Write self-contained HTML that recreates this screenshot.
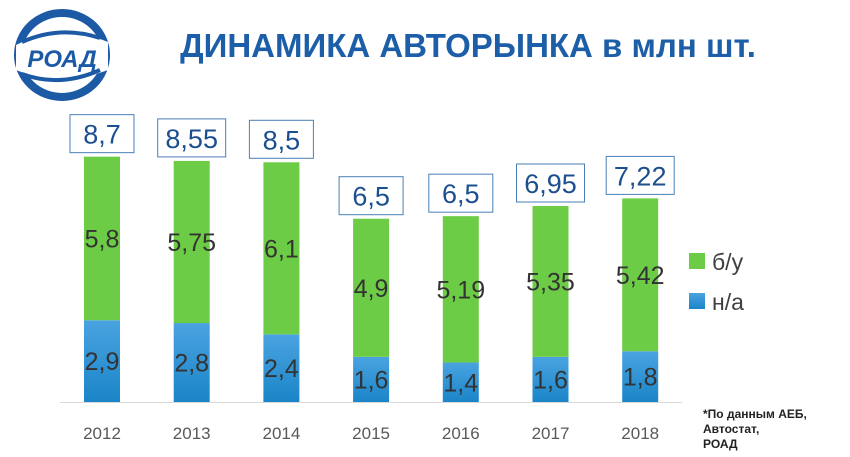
<!DOCTYPE html>
<html><head><meta charset="utf-8"><style>
body{margin:0;background:#fff;width:850px;height:457px;overflow:hidden;font-family:"Liberation Sans","DejaVu Sans",sans-serif}
svg{display:block}
</style></head><body>
<svg width="850" height="457" viewBox="0 0 850 457">
<defs>
<linearGradient id="gb" x1="0" y1="0" x2="0" y2="1"><stop offset="0" stop-color="#4aa3e0"/><stop offset="1" stop-color="#1a85c8"/></linearGradient>
</defs>
<g>
<ellipse cx="62" cy="55" rx="44" ry="42" fill="none" stroke="#1d5aa5" stroke-width="8"/>
<path d="M16 45 Q60 22 108 42 L108 70 Q60 88 16 70 Z" fill="#fff"/>
<path d="M22 42 Q60 25 100 38" fill="none" stroke="#1d5aa5" stroke-width="4"/>
<path d="M22 74 Q60 88 100 70" fill="none" stroke="#1d5aa5" stroke-width="4"/>
<text x="62" y="67" text-anchor="middle" font-size="24" font-weight="bold" font-style="italic" fill="#1d5aa5">РОАД</text>
</g>
<text x="468" y="57" text-anchor="middle" font-size="33" font-weight="bold" fill="#1c5ea8">ДИНАМИКА АВТОРЫНКА в млн шт.</text>
<line x1="60" y1="402.5" x2="682" y2="402.5" stroke="#d9d9d9"/>
<g id="bars"></g>
<g>
<rect x="689" y="253" width="16" height="16" fill="#6dcc45"/>
<text x="712" y="270" font-size="23" fill="#404040">б/у</text>
<rect x="689" y="293" width="16" height="16" fill="url(#gb)"/>
<text x="712" y="310" font-size="23" fill="#404040">н/а</text>
</g>
<g font-size="12" font-weight="bold" fill="#222">
<text x="703" y="418">*По данным АЕБ,</text>
<text x="703" y="433">Автостат,</text>
<text x="703" y="448">РОАД</text>
</g>
</svg>
<script>
const years=["2012","2013","2014","2015","2016","2017","2018"];
const newCars=[2.9,2.8,2.4,1.6,1.4,1.6,1.8];
const usedCars=[5.8,5.75,6.1,4.9,5.19,5.35,5.42];
const totals=[8.7,8.55,8.5,6.5,6.5,6.95,7.22];
const NS="http://www.w3.org/2000/svg";
const g=document.getElementById('bars');
const base=402,scale=28.2,x0=102,step=89.7,bw=36;
const yS=v=>base-v*scale;
const fmt=v=>String(v).replace('.',',');
function mk(t,a){const e=document.createElementNS(NS,t);for(const k in a)e.setAttribute(k,a[k]);g.appendChild(e);return e;}
years.forEach((yr,i)=>{
const cx=x0+i*step;
const yN=yS(newCars[i]),yT=yS(newCars[i]+usedCars[i]);
const b=mk('rect',{x:cx-bw/2,y:yN,width:bw,height:base-yN,fill:'url(#gb)'});


const u=mk('rect',{x:cx-bw/2,y:yT,width:bw,height:yN-yT,fill:'#6dcc45'});


const t1=mk('text',{x:cx,y:(yN+base)/2+9,'text-anchor':'middle','font-size':25,fill:'#333'});
t1.textContent=fmt(newCars[i]);


const t2=mk('text',{x:cx,y:(yT+yN)/2+9,'text-anchor':'middle','font-size':25,fill:'#333'});
t2.textContent=fmt(usedCars[i]);


const lab=fmt(totals[i]);
const w=lab.length>3?68:64;
const bx=mk('rect',{x:cx-w/2,y:yT-42,width:w,height:38,fill:'#fff',stroke:'#4a7fb5','stroke-width':1});


const tt=mk('text',{x:cx,y:yT-13,'text-anchor':'middle','font-size':27,fill:'#1c4f8f'});
tt.textContent=lab;


const xl=mk('text',{x:cx,y:439,'text-anchor':'middle','font-size':17,fill:'#595959'});
xl.textContent=yr;


});
</script>
</body></html>
